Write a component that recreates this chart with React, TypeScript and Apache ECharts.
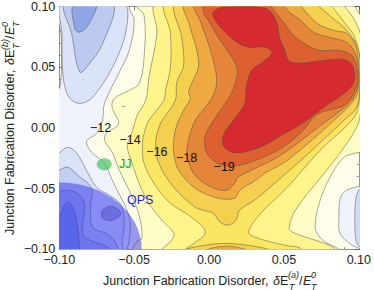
import React, { useEffect, useRef } from "react";
import * as echarts from "echarts";

type P = number[];

// Tick labels
const xTickLabels = ["\u22120.10", "\u22120.05", "0.00", "0.05", "0.10"];
const yTickLabels = ["\u22120.10", "\u22120.05", "0.00", "0.05", "0.10"];
const tickValues = [-0.1, -0.05, 0, 0.05, 0.1];

// Contour outlines, in thousandths of the axis unit
const level13: P[] = [[-49.4,103],[-48.7,100],[-43.4,92.6],[-43.4,58],[-46.7,36.6],[-53.3,30.9],[-63.2,24.3],[-64.8,17.1],[-60.4,3.5],[-68.5,-4.5],[-69.8,-10.2],[-64.6,-20.1],[-59.9,-34.9],[-53.3,-51.4],[-46.7,-71.9],[-44.8,-90.8],[-48,-93.3],[-51.3,-99.9],[-52.7,-104],[88,-104],[86.7,-99.9],[78.8,-94.9],[73.5,-89.2],[70.8,-81.8],[73.5,-62.1],[80.7,-40.7],[90,-24.2],[97.3,-20.9],[102.5,-18.5],[102.5,88.5],[99.9,95],[97.3,100],[96,103]];
const level14: P[] = [[-35,103],[-34.8,77.8],[-40.1,41.6],[-42.3,22.7],[-48,10.3],[-52,-6.1],[-54.7,-14.3],[-52,-26.7],[-48,-41.5],[-41.4,-59.6],[-31.5,-76],[-23.6,-86.7],[-24.9,-92.5],[-31.5,-99.9],[-33.5,-104],[84,-104],[83.4,-99],[76.8,-95],[55.6,-85.9],[53.5,-81.8],[57.6,-67.8],[76.8,-37.4],[85.4,-24.2],[98.6,0.5],[101.2,14.4],[101.9,72],[97.3,88.5],[90.6,100],[89.3,103]];
const level15: P[] = [[-28.4,103],[-25.8,77.8],[-25.8,49.8],[-29.1,30.9],[-30.2,22.7],[-40.1,6.2],[-43.4,-4.5],[-44.5,-16],[-43.4,-29.2],[-36.8,-45.6],[-25.8,-62.1],[-11.7,-73.6],[-2.5,-85.9],[-11.7,-96.6],[-15.7,-99.9],[-16.3,-104],[61.6,-104],[60.9,-99],[50.4,-96.6],[30.6,-90],[26.4,-85.7],[34.5,-70.3],[52.3,-48.9],[74.1,-18.5],[95.3,6.2],[99.9,18.6],[100.6,55.6],[97.3,74.5],[92,84.3],[82.1,100],[80.8,103]];
const level16: P[] = [[-21.6,103],[-18.3,74.5],[-17,51.4],[-21.6,37.5],[-22.5,22.7],[-31.3,6.2],[-33.5,0.5],[-35.7,-12.7],[-33.5,-29.2],[-23.6,-48.9],[-9.3,-65.3],[-3.8,-67.8],[2.8,-70.3],[7.2,-77.4],[12.7,-80.1],[18,-76],[20.4,-67.8],[30.4,-59.6],[43.8,-45.6],[63.6,-24.2],[90,6.2],[98.6,16.9],[100.6,35],[99.9,63.8],[92,80.2],[82.1,90.9],[73.5,100],[72.2,103]];
const level17: P[] = [[-15.7,103],[-12.6,83],[-8.2,63.8],[-7.1,50],[-11.7,36.6],[-13.7,29.2],[-12.4,24.3],[-16.3,16.1],[-21.6,2.1],[-23.6,-10.2],[-23.6,-20.9],[-20.3,-34.9],[-9.3,-49.7],[6.1,-57.9],[17.1,-57.9],[20.6,-51.4],[31.2,-43.1],[37.2,-37.4],[52.3,-26.7],[83.4,6.2],[97.9,25.1],[99.9,39.1],[99.9,53.9],[97.9,67.9],[92,77.8],[83.4,80.2],[72.2,86],[61.6,100],[60.3,103]];
const level18: P[] = [[-9.7,103],[-6,88.5],[-0.5,69.5],[3.9,49.8],[5,36.6],[1.7,24.3],[-9.3,6.2],[-13.7,-10.2],[-14.8,-20.9],[-10.4,-37.4],[1.7,-48.9],[11.6,-51.4],[17.1,-45.6],[19.3,-40.7],[32.5,-32.4],[47.7,-22.6],[77.4,4.6],[93.3,20.2],[99.2,32.5],[99.9,47.3],[97.3,62.1],[92,70.4],[80.7,74.5],[70.2,78.6],[59,90.9],[53.7,95],[50.4,100],[49,103]];
const level19: P[] = [[-3.1,103],[-3.1,92.6],[-1.6,90.9],[6.1,74.5],[17.1,54.2],[18.9,44.9],[14.9,28.4],[6.1,12],[-1.6,-3.4],[-3.1,-12.7],[-0.5,-22.6],[6.1,-29.4],[14.9,-31.6],[25.9,-28.9],[39.1,-22.6],[50.2,-15.2],[62.2,-2.8],[72.2,11.2],[90,18.5],[96.6,28.4],[99.2,39.1],[98.6,49.8],[95.3,59.7],[87.3,63.8],[74.1,63.8],[65.6,67.9],[59,73.6],[55,77.8],[50.4,86],[44.4,95],[41.8,100],[40,103]];
const level20: P[] = [[2.8,95.3],[8.6,99.4],[37.2,98.9],[42,94],[45.5,85.7],[47,74.7],[50.4,64.4],[53.2,55.6],[59.1,53.3],[72.4,55],[87.8,56.6],[94.4,53.7],[97.3,44.6],[95.5,35],[87.8,26.2],[76.8,17.2],[63.6,4.8],[50.4,-4.7],[37,-14.3],[23.7,-19.9],[14.9,-19.9],[9.4,-14.3],[10,-4.7],[17.1,7.6],[23.7,19.9],[24.8,33.6],[28.4,47.3],[37.2,55.6],[42,62.4],[37.2,66.5],[26.1,66.5],[18.5,70.6],[8.6,81.6],[3,91.2]];
const lensOuter: P[] = [[-18.3,-102.3],[-15.7,-99.9],[0.8,-96],[12.7,-95.2],[28.6,-97.2],[39.1,-99.9],[41.8,-102.3],[40,-106],[-18,-106]];
const lensInner: P[] = [[-3.8,-102.3],[0.8,-99.3],[12.7,-97.4],[23.9,-99.9],[27.2,-102.3],[25,-106],[-3,-106]];
const level12Left: P[] = [[-54,103],[-53.3,98.3],[-50,88.5],[-53.3,63.8],[-60,45.7],[-69.8,20.2],[-71.2,6.2],[-75.1,-4.5],[-81.7,-11],[-78.4,-20.1],[-69.8,-29.2],[-65.2,-41.5],[-61.3,-51.4],[-55.3,-66.2],[-52.7,-77.7],[-53.3,-92.5],[-54.7,-99.9],[-55.3,-104],[-102.9,-104],[-102.9,26.8],[-99.2,35],[-98.6,72],[-98.6,103]];
const level12Right: P[] = [[102,-49.7],[97.3,-48.9],[90,-53],[87.3,-59.6],[86.7,-73.6],[87.3,-86.7],[95.3,-96.6],[99.9,-99],[102,-100.7]];
const level11Right: P[] = [[99.9,-51.4],[97.9,-59.6],[97.3,-76],[97.9,-90.8],[99.9,-97.4],[102.5,-97.4],[102.5,-51.4]];
const level11Top: P[] = [[-57.3,103],[-55,83],[-63.2,53.1],[-77.6,25.4],[-86.4,20.2],[-93.6,25.4],[-97.4,41.8],[-98.2,77.8],[-98.2,103]];
const level10Top: P[] = [[-96.3,103],[-91.8,77.8],[-86.4,46],[-80.9,51.4],[-71,69.5],[-64.4,103]];
const level9Top: P[] = [[-90.3,103],[-89.7,81.9],[-86.4,78.8],[-80.9,84.3],[-75.3,103]];
const level11Low: P[] = [[-102.9,-23.4],[-100.2,-20.9],[-94.3,-16],[-88.3,-20.9],[-81.1,-36.6],[-75.1,-48.9],[-66.5,-55.5],[-58.6,-63.7],[-56.6,-77.7],[-58,-92.5],[-59.3,-104],[-102.9,-104]];
const level10Low: P[] = [[-102.9,-36.6],[-100.2,-34.9],[-94.3,-32.4],[-87.7,-39],[-78.4,-49.7],[-79.1,-63.7],[-77.8,-81.8],[-67.9,-87.5],[-61.9,-95.8],[-61.3,-104],[-102.9,-104]];
const level9Low: P[] = [[-102.9,-55.5],[-93,-51.4],[-86.4,-55.5],[-83,-63.7],[-84.4,-81.8],[-83,-90],[-66.5,-99.1],[-65.2,-104],[-102.9,-104]];
const level8Low: P[] = [[-102.9,-77.7],[-100.2,-73.6],[-94.9,-61.2],[-91,-65.3],[-87.7,-81.8],[-86.4,-99.1],[-85.7,-104],[-102.9,-104]];
const blob: P[] = [[-71.2,-67.8],[-65.2,-64.5],[-58.6,-70.3],[-64.6,-76],[-71.2,-74.4]];

const bandColors: [P[], string][] = [
  [level13, "#fffdc6"],
  [level14, "#fff48c"],
  [level15, "#fbe664"],
  [lensOuter, "#f5cf50"],
  [lensInner, "#eeaa40"],
  [level16, "#f5cf50"],
  [level17, "#eeaa40"],
  [level18, "#e5853a"],
  [level19, "#dc6030"],
  [level20, "#d42a30"],
  [level12Left, "#eff2fb"],
  [level12Right, "#eff2fb"],
  [level11Right, "#d0daf6"],
  [level11Top, "#dbe3f8"],
  [level10Top, "#bccaf2"],
  [level9Top, "#8ea6e6"],
  [level11Low, "#dbe3f8"],
  [level10Low, "#c2cef2"],
  [level9Low, "#a6b7ec"],
  [level8Low, "#7f98e4"],
  [blob, "#a2a8cc"],
];

// Annotations, axis units
const contourText = ["\u221212", "\u221214", "\u221216", "\u221218", "\u221219", "\u2212"];
const contourX = [-0.0725, -0.0527, -0.0348, -0.015, 0.0101, -0.0573];
const contourY = [-0.0004, -0.0102, -0.0201, -0.025, -0.0324, 0.0177];
const regionCentre = { qps: [-0.1, -0.1], jj: [-0.07, -0.03] };
const regionRadius = { qps: 0.055, jj: 0.005 };
const regionLabels = [
  { text: "JJ", x: -0.056, y: -0.03, color: "#14aa14" },
  { text: "QPS", x: -0.046, y: -0.0596, color: "#2222ee" },
];

const FONT = "Liberation Sans";

function titleParts(sup: string) {
  const main = `12.5px "${FONT}"`;
  const it = `italic 12.5px "${FONT}"`;
  const small = `italic 9px "${FONT}"`;
  const t = (text: string, x: number, y: number, font: string) => ({
    type: "text",
    x,
    y,
    style: { text, font, fill: "#222", align: "left", verticalAlign: "middle" },
  });
  return [
    t("Junction Fabrication Disorder,", 0, -4.5, main),
    t("\u03b4", 170, -4.5, it),
    t("E", 177, -4.5, main),
    t(sup, 185, -10, small),
    t("T", 186, 1.5, small),
    t("/", 196, -4.5, main),
    t("E", 200, -4.5, it),
    t("0", 208, -10, small),
    t("T", 208, 1.5, small),
  ];
}

function fmt(list: string[]) {
  return (v: number) => {
    const i = tickValues.findIndex((t) => Math.abs(t - v) < 1e-6);
    return i >= 0 ? list[i] : "";
  };
}

function axis(position: string, labels: string[] | null): any {
  return {
    type: "value",
    position,
    min: -0.1,
    max: 0.1,
    interval: 0.05,
    splitLine: { show: false },
    axisLine: { show: true, onZero: false, lineStyle: { color: "#777", width: 0.8 } },
    axisTick: { show: true, inside: true, length: 4, lineStyle: { color: "#444", width: 0.7 } },
    minorTick: { show: true, splitNumber: 5, length: 2, lineStyle: { color: "#555", width: 0.6 } },
    axisLabel: labels
      ? {
          show: true,
          formatter: fmt(labels),
          fontFamily: FONT,
          fontSize: 12.5,
          color: "#222",
          margin: 4,
          hideOverlap: false,
          showMinLabel: true,
          showMaxLabel: true,
        }
      : { show: false },
  };
}

export default function App() {
  const ref = useRef<HTMLDivElement>(null);
  useEffect(() => {
    const chart = echarts.init(ref.current!, null, { renderer: "svg" });
    chart.setOption({
      animation: false,
      backgroundColor: "#ffffff",
      grid: {
        left: 59.3,
        top: 6,
        width: 302.7,
        height: 243.3,
        show: true,
        backgroundColor: "#fdfde9",
        borderWidth: 0,
      },
      xAxis: [axis("bottom", xTickLabels), axis("top", null)],
      yAxis: [axis("left", yTickLabels), axis("right", null)],
      graphic: [
        { type: "group", x: 103, y: 285, children: titleParts("(a)") },
        { type: "group", x: 14.5, y: 235, rotation: Math.PI / 2, children: titleParts("(b)") },
      ],
      series: [
        {
          type: "custom",
          clip: true,
          silent: true,
          data: bandColors.map((_, i) => [0, 0, i]),
          encode: { x: 0, y: 1 },
          renderItem: (params: any, api: any) => {
            const [pts, color] = bandColors[params.dataIndex];
            return {
              type: "polygon",
              shape: {
                points: pts.map((p) => api.coord([p[0] / 1000, p[1] / 1000])),
                smooth: 0.35,
              },
              style: { fill: color, stroke: "rgba(80,80,70,0.62)", lineWidth: 0.8 },
            };
          },
        },
        {
          type: "custom",
          clip: true,
          silent: true,
          data: [
            [regionCentre.qps[0], regionCentre.qps[1], regionRadius.qps],
            [regionCentre.jj[0], regionCentre.jj[1], regionRadius.jj],
          ],
          encode: { x: 0, y: 1 },
          renderItem: (params: any, api: any) => {
            const c = api.coord([api.value(0), api.value(1)]);
            const s = api.size([api.value(2), api.value(2)]);
            return {
              type: "ellipse",
              shape: { cx: c[0], cy: c[1], rx: s[0], ry: s[1] },
              style:
                params.dataIndex === 0
                  ? { fill: "rgba(52,52,240,0.5)" }
                  : { fill: "rgba(50,190,80,0.62)" },
            };
          },
        },
        {
          type: "custom",
          silent: true,
          data: contourText.map((_, i) => [contourX[i], contourY[i], i]),
          encode: { x: 0, y: 1 },
          renderItem: (params: any, api: any) => {
            const c = api.coord([api.value(0), api.value(1)]);
            const i = params.dataIndex;
            const dash = contourText[i] === "\u2212";
            return {
              type: "text",
              x: c[0],
              y: c[1],
              style: {
                text: contourText[i],
                font: `${dash ? 7 : 12.5}px "${FONT}"`,
                fill: dash ? "#555" : "#111",
                align: "center",
                verticalAlign: "middle",
              },
            };
          },
        },
        {
          type: "custom",
          silent: true,
          data: regionLabels.map((l) => [l.x, l.y]),
          encode: { x: 0, y: 1 },
          renderItem: (params: any, api: any) => {
            const c = api.coord([api.value(0), api.value(1)]);
            const l = regionLabels[params.dataIndex];
            return {
              type: "text",
              x: c[0],
              y: c[1],
              style: {
                text: l.text,
                font: `12.5px "${FONT}"`,
                fill: l.color,
                align: "center",
                verticalAlign: "middle",
              },
            };
          },
        },
      ],
    });
    return () => chart.dispose();
  }, []);
  return (
    <div
      ref={ref}
      style={{ position: "fixed", left: 0, top: 0, width: 374, height: 290 }}
    />
  );
}
